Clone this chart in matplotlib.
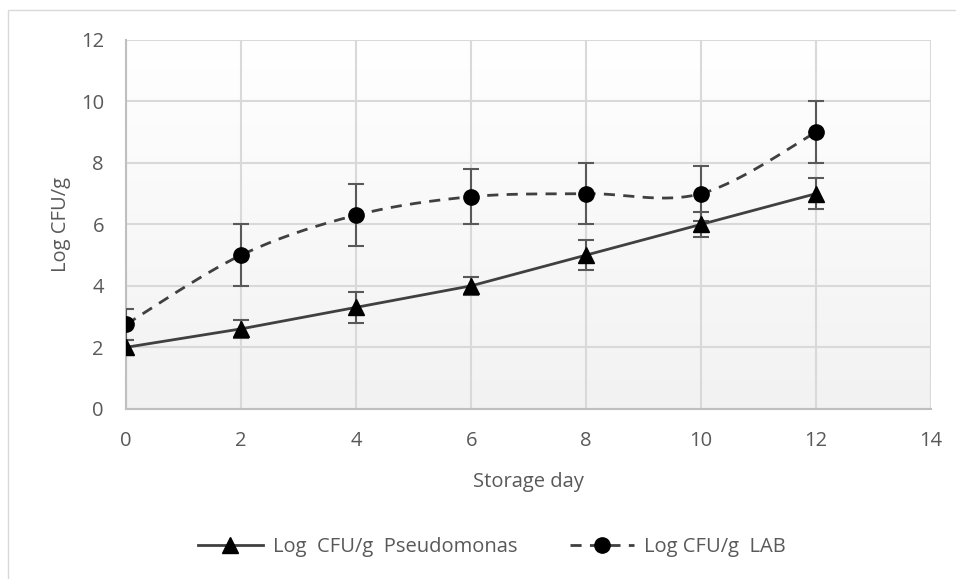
import numpy as np
import matplotlib.pyplot as plt
from matplotlib.patches import Rectangle

days = [0, 2, 4, 6, 8, 10, 12]
pseudo = [2.0, 2.6, 3.3, 4.0, 5.0, 6.0, 7.0]
pseudo_err = [0.25, 0.3, 0.5, 0.3, 0.5, 0.4, 0.5]
lab = [2.75, 5.0, 6.3, 6.9, 7.0, 7.0, 9.0]
lab_err = [0.5, 1.0, 1.0, 0.9, 1.0, 0.9, 1.0]


def smooth(x, y, n=30):
    # catmull-rom, similar to excel "smoothed line"
    x = np.asarray(x, float)
    y = np.asarray(y, float)
    px = np.concatenate([[x[0]], x, [x[-1]]])
    py = np.concatenate([[y[0]], y, [y[-1]]])
    xs, ys = [], []
    for i in range(1, len(px) - 2):
        t = np.linspace(0, 1, n)
        for arr, out in ((px, xs), (py, ys)):
            p0, p1, p2, p3 = arr[i - 1], arr[i], arr[i + 1], arr[i + 2]
            out.extend(0.5 * (2 * p1 + (-p0 + p2) * t
                              + (2 * p0 - 5 * p1 + 4 * p2 - p3) * t ** 2
                              + (-p0 + 3 * p1 - 3 * p2 + p3) * t ** 3))
    return xs, ys


plt.rcParams['font.family'] = ['Open Sans', 'DejaVu Sans']
txt = '#595959'
fs = 14.5

fig = plt.figure(figsize=(9.56, 5.79), dpi=100)
fig.patches.append(Rectangle((8 / 956, -0.1), 1.2, 1 - 10 / 579 + 0.1,
                             transform=fig.transFigure, fill=False,
                             edgecolor='#d9d9d9', linewidth=1))
ax = fig.add_axes([0.132, 0.294, 0.842, 0.637])

grad = np.linspace(1, 0, 256).reshape(-1, 1)
ax.imshow(grad, extent=[0, 1, 0, 1], transform=ax.transAxes, aspect='auto',
          cmap=plt.matplotlib.colors.LinearSegmentedColormap.from_list(
              'g', ['#f2f2f2', '#ffffff']), zorder=0)

ax.errorbar(days, pseudo, yerr=pseudo_err, fmt='none', ecolor=txt,
            elinewidth=1.5, capsize=6, capthick=1.5, zorder=3)
ax.errorbar(days, lab, yerr=lab_err, fmt='none', ecolor=txt,
            elinewidth=1.5, capsize=6, capthick=1.5, zorder=3)

ax.plot(days, pseudo, color='#404040', lw=2, zorder=4)
sx, sy = smooth(days, lab)
ax.plot(sx, sy, color='#404040', lw=2, ls=(0, (4, 3)), zorder=4)
ax.plot(days, pseudo, ls='none', marker='^', ms=12, color='black', zorder=5)
ax.plot(days, lab, ls='none', marker='o', ms=11, color='black', zorder=5)

# legend proxies
ax.plot([], [], color='#404040', lw=2, marker='^', ms=12, mfc='black',
        mec='black', label='Log  CFU/g  Pseudomonas')
ax.plot([], [], color='#404040', lw=2, ls=(0, (4, 3)), marker='o', ms=11,
        mfc='black', mec='black', label='Log CFU/g  LAB')

ax.set_xlim(0, 14)
ax.set_ylim(0, 12)
ax.set_xticks(range(0, 15, 2))
ax.set_yticks(range(0, 13, 2))
ax.grid(True, color='#d9d9d9', lw=1.5)
ax.set_axisbelow(True)
for s in ['top', 'right']:
    ax.spines[s].set_visible(False)
for s in ['left', 'bottom']:
    ax.spines[s].set_color('#bfbfbf')
    ax.spines[s].set_linewidth(1.5)
ax.tick_params(length=0, width=0, labelsize=fs, labelcolor=txt)
ax.tick_params(axis='y', pad=16)
ax.tick_params(axis='x', pad=16)
ax.set_xlabel('Storage day', fontsize=fs, color=txt, labelpad=15)
ax.set_ylabel('Log CFU/g', fontsize=fs, color=txt, labelpad=7)

fig.legend(*ax.get_legend_handles_labels(), loc='center',
           bbox_to_anchor=(0.5 + 14 / 956, 1 - 547 / 579), ncol=2,
           frameon=False, fontsize=fs, labelcolor=txt, handlelength=3.2,
           handletextpad=0.5, columnspacing=2.6)

fig.savefig('out.png', dpi=100)
